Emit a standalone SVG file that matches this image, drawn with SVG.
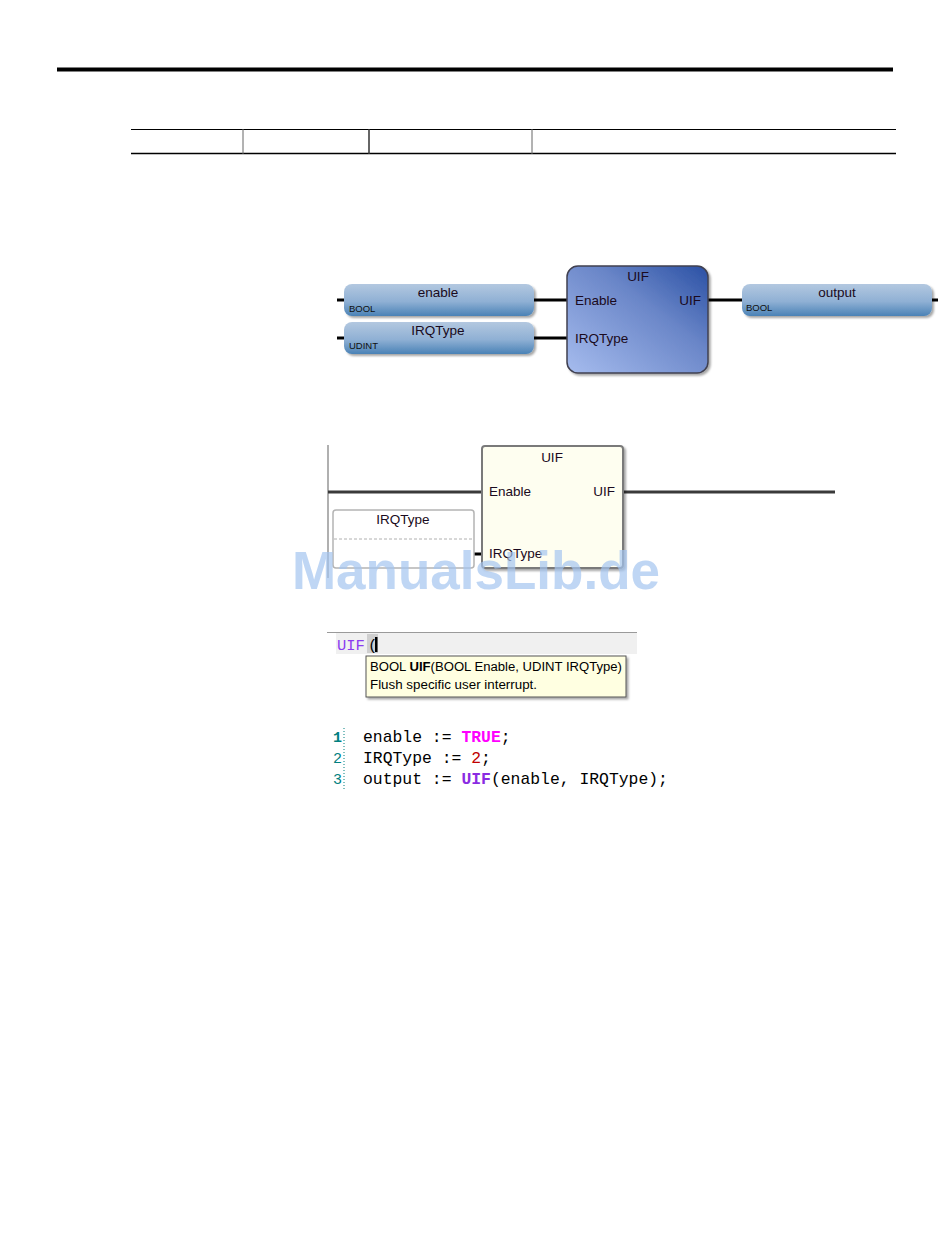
<svg xmlns="http://www.w3.org/2000/svg" width="950" height="1248" viewBox="0 0 950 1248">
<defs>
<linearGradient id="varGrad" x1="0" y1="0" x2="0" y2="1">
<stop offset="0" stop-color="#b3c8e0"/>
<stop offset="0.55" stop-color="#8fb0d4"/>
<stop offset="1" stop-color="#4a82b6"/>
</linearGradient>
<linearGradient id="blkGrad" x1="0" y1="1" x2="1" y2="0">
<stop offset="0" stop-color="#a6bcee"/>
<stop offset="0.6" stop-color="#6a86c8"/>
<stop offset="1" stop-color="#2a50a4"/>
</linearGradient>
<filter id="sh" x="-5%" y="-5%" width="115%" height="125%">
<feDropShadow dx="2" dy="2" stdDeviation="1.2" flood-color="#000" flood-opacity="0.35"/>
</filter>
</defs>
<style>
.sans{font-family:"Liberation Sans",Arial,sans-serif;}
.mono{font-family:"Liberation Mono","Courier New",monospace;}
.lbl{font-family:"Liberation Sans",Arial,sans-serif;font-size:13.5px;fill:#1a0a20;}
.typ{font-family:"Liberation Sans",Arial,sans-serif;font-size:9.5px;fill:#101010;}
.wire{stroke:#000;stroke-width:3;fill:none;}
.lwire{stroke:#3a3a3a;stroke-width:3;fill:none;}
.var{fill:url(#varGrad);}
.code{font-family:"Liberation Mono","Courier New",monospace;font-size:16.4px;fill:#000;}
.ln{font-family:"Liberation Mono","Courier New",monospace;font-size:15px;fill:#008080;}
</style>
<rect width="950" height="1248" fill="#fff"/>

<g id="header">
<rect x="57" y="67.5" width="836" height="4" fill="#000"/>
<line x1="131" y1="129.5" x2="896" y2="129.5" stroke="#000" stroke-width="1.2"/>
<line x1="131" y1="153.5" x2="896" y2="153.5" stroke="#000" stroke-width="1.5"/>
<line x1="243" y1="129" x2="243" y2="154" stroke="#666" stroke-width="1"/>
<line x1="369" y1="129" x2="369" y2="154" stroke="#333" stroke-width="1.5"/>
<line x1="532" y1="129" x2="532" y2="154" stroke="#666" stroke-width="1"/>
</g>

<g id="connectors">
<line class="wire" x1="337" y1="300" x2="345" y2="300"/>
<line class="wire" x1="337" y1="338" x2="345" y2="338"/>
<line class="wire" x1="534" y1="300" x2="568" y2="300"/>
<line class="wire" x1="534" y1="338" x2="568" y2="338"/>
<line class="wire" x1="708" y1="300" x2="743" y2="300"/>
<line class="wire" x1="931" y1="300" x2="938" y2="300"/>
<line x1="328" y1="445" x2="328" y2="578" stroke="#b0b0b0" stroke-width="2"/>
<line class="lwire" x1="328" y1="492" x2="482" y2="492"/>
<line class="lwire" x1="623" y1="492" x2="835" y2="492"/>
<line class="wire" x1="474" y1="554" x2="482" y2="554"/>
</g>

<g id="fbd-enable">
<rect class="var" x="344" y="284" width="190" height="32" rx="8" filter="url(#sh)"/>
<text class="lbl" x="438" y="297" text-anchor="middle">enable</text>
<text class="typ" x="349" y="312">BOOL</text>
</g>
<g id="fbd-irqtype">
<rect class="var" x="344" y="322" width="190" height="32" rx="8" filter="url(#sh)"/>
<text class="lbl" x="438" y="335" text-anchor="middle">IRQType</text>
<text class="typ" x="349" y="349">UDINT</text>
</g>
<g id="fbd-uif">
<rect x="567" y="266" width="141" height="107" rx="11" fill="url(#blkGrad)" stroke="#404050" stroke-width="1.5" filter="url(#sh)"/>
<text class="lbl" x="638" y="281" text-anchor="middle" font-size="13px">UIF</text>
<text class="lbl" x="575" y="305">Enable</text>
<text class="lbl" x="575" y="343">IRQType</text>
<text class="lbl" x="701" y="305" text-anchor="end">UIF</text>
</g>
<g id="fbd-output">
<rect class="var" x="742" y="284" width="190" height="32" rx="8" filter="url(#sh)"/>
<text class="lbl" x="837" y="297" text-anchor="middle">output</text>
<text class="typ" x="746" y="311">BOOL</text>
</g>

<g id="ld-uif">
<rect x="482" y="446" width="141" height="122" rx="3" fill="#fefef0" stroke="#7a7a7a" stroke-width="2" filter="url(#sh)"/>
<text class="lbl" x="552" y="462" text-anchor="middle" font-size="13px">UIF</text>
<text class="lbl" x="489" y="496">Enable</text>
<text class="lbl" x="615" y="496" text-anchor="end">UIF</text>
<text class="lbl" x="489" y="558">IRQType</text>
</g>
<g id="ld-irqtype">
<rect x="333" y="510" width="141" height="58" rx="3" fill="#fff" stroke="#b4b4b4" stroke-width="1.5"/>
<line x1="334" y1="539" x2="473" y2="539" stroke="#b0b0b0" stroke-width="1" stroke-dasharray="3,2"/>
<text class="lbl" x="403" y="524" text-anchor="middle" font-size="12.5px">IRQType</text>
</g>

<g id="editor">
<rect x="336" y="633" width="301" height="21" fill="#f0f0f0"/>
<line x1="327" y1="632.5" x2="637" y2="632.5" stroke="#9a9a9a" stroke-width="1.2"/>
<text class="mono" x="337" y="650" font-size="15.5px" fill="#8c3cf0">UIF</text>
<rect x="367" y="634" width="11" height="19" fill="#cfcfcf"/>
<text class="mono" x="368" y="650" font-size="15.5px" fill="#000">(</text>
<rect x="375" y="637" width="2.5" height="15" fill="#000"/>
</g>
<g id="tooltip">
<rect x="366" y="656" width="260" height="41" fill="#ffffe1" stroke="#555" stroke-width="1" filter="url(#sh)"/>
<text class="sans" x="370" y="671" font-size="12px" fill="#000" textLength="252" lengthAdjust="spacingAndGlyphs">BOOL <tspan font-weight="bold">UIF</tspan>(BOOL Enable, UDINT IRQType)</text>
<text class="sans" x="370" y="689" font-size="12px" fill="#000" textLength="167" lengthAdjust="spacingAndGlyphs">Flush specific user interrupt.</text>
</g>

<g id="code">
<line x1="344" y1="728" x2="344" y2="791" stroke="#008080" stroke-width="1" stroke-dasharray="1,2"/>
<text class="ln" x="333" y="742" font-weight="bold">1</text>
<text class="ln" x="333" y="763">2</text>
<text class="ln" x="333" y="784">3</text>
<text class="code" x="363" y="742">enable := <tspan fill="#ff00ff" font-weight="bold">TRUE</tspan>;</text>
<text class="code" x="363" y="763">IRQType := <tspan fill="#c00000">2</tspan>;</text>
<text class="code" x="363" y="784">output := <tspan fill="#8a2be2" font-weight="bold">UIF</tspan>(enable, IRQType);</text>
</g>

<g id="watermark">
<text class="sans" x="476" y="589" text-anchor="middle" font-size="53px" font-weight="bold" fill="#a4c4f0" fill-opacity="0.7">ManualsLib.de</text>
</g>
</svg>
